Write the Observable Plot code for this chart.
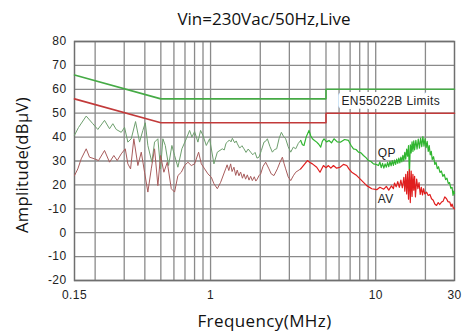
<!DOCTYPE html>
<html><head><meta charset="utf-8">
<script src="https://cdn.jsdelivr.net/npm/d3@7"></script>
<script src="https://cdn.jsdelivr.net/npm/@observablehq/plot@0.6"></script>
<style>
body{margin:0;background:#fff;}
#title{width:462px;height:30px;position:relative;}
#title span{position:absolute;left:74px;width:380px;top:9px;text-align:center;font-family:"Open Sans",sans-serif;font-size:17px;line-height:20px;color:#111;}
svg{letter-spacing:0.4px;}
</style></head>
<body>
<div id="title"><span>Vin=230Vac/50Hz,Live</span></div>
<div id="chart"></div>
<script>
// ---- data ----
const freqTicks = [0.15, 1, 10, 30];
const freqTickLabels = ["0.15", "1", "10", "30"];
const levelTicks = [-20, -10, 0, 10, 20, 30, 40, 50, 60, 70, 80];
const levelTickLabels = ["-20", "-10", "0", "-10", "20", "30", "40", "50", "60", "70", "80"];
const gridFreq = [0.2, 0.3, 0.4, 0.5, 0.6, 0.7, 0.8, 0.9, 1, 2, 3, 4, 5, 6, 7, 8, 9, 10, 20];

const limitFreq = [0.15, 0.5, 5, 5, 30];
const qpLimit = [66, 56, 56, 60, 60];
const avLimit = [56, 46, 46, 50, 50];

const qpFreq = [0.150,0.1586,0.1766,0.1936,0.2076,0.228,0.2445,0.256,0.2684,0.2878,0.3014,0.3156,0.3309,0.3514,0.3716,0.3891,0.4024,0.4172,0.4412,0.458,0.4796,0.498,0.5144,0.5318,0.5569,0.5832,0.6056,0.6341,0.6705,0.713,0.7466,0.7709,0.8006,0.8383,0.8703,0.8988,0.9425,0.9869,1.048,1.099,1.178,1.21,1.24,1.264,1.30,1.33,1.355,1.40,1.43,1.453,1.50,1.55,1.593,1.64,1.69,1.749,1.80,1.86,1.91,1.964,2.03,2.106,2.15,2.208,2.29,2.367,2.44,2.514,2.60,2.684,2.76,2.85,2.95,3.057,3.17,3.278,3.40,3.514,3.60,3.68,3.80,3.945,4.04,4.137,4.26,4.393,4.52,4.645,4.75,4.865,5.04,5.216,5.40,5.592,5.85,6.141,6.48,6.84,7.08,7.334,7.60,7.863,8.15,8.431,8.73,9.04,9.36,9.693,10.05,10.4,10.6,10.8,11.0,11.2,11.4,11.6,11.8,12.0,12.2,12.4,12.6,12.8,13.0,13.2,13.4,13.6,13.8,14.0,14.2,14.4,14.6,14.8,15.0,15.2,15.4,15.6,15.8,16.0,16.2,16.4,16.6,16.8,17.0,17.2,17.5,17.8,18.1,18.4,18.7,19.0,19.3,19.6,19.9,20.2,20.5,20.8,21.1,21.4,21.7,22.0,22.4,22.8,23.2,23.6,24.0,24.5,25.0,25.5,26.0,26.5,27.0,27.5,28.0,28.5,29.0,29.4,29.7,30];
const qpLevel = [40.8,44,48.8,45.6,43.2,47,43.5,45.6,43.2,42,44.1,37.9,39.3,46.5,37.9,42.8,46,36.5,29.5,37.9,39.3,26.7,39.3,36.5,28.1,36.5,32.3,27.4,35.1,39.3,42.8,40,42.3,37.9,42.8,40.7,36.5,39.3,28.8,33.7,35.1,34.6,37.4,37.9,38.8,38.0,39.5,37.6,38.4,37.2,35.4,36.4,35.1,33.6,35.0,33.7,32.6,33.6,31.2,31.6,34.4,37.9,38.2,39.3,36.0,33.7,34.8,35.1,39.4,42,40.4,39.3,36.0,33.7,35.8,35.1,37.4,38.6,36.8,36.5,40.2,42.8,40.6,39.3,38.6,37.9,37.0,35.8,38.2,39.3,38.0,38.6,37.6,39.3,38.0,37.9,39.0,38.6,36.6,35.1,34.8,33.7,33.4,32.3,31.4,30.2,29.8,28.8,28.6,28.1,29.6,27.2,29.0,27.0,28.8,27.4,29.4,27.6,29.8,28.0,30.2,28.2,30.4,28.6,30.8,29.0,31.2,29.2,31.6,29.6,32.4,30.0,33.6,30.8,35.0,32.0,36.4,24.0,36.8,33.4,38.0,34.0,38.4,34.6,38.6,35.0,39.2,35.4,39.6,36.0,40.2,36.2,39.4,35.6,38.2,34.0,36.4,32.6,34.0,30.6,31.8,28.6,29.4,26.8,27.6,25.2,25.8,23.6,24.4,22.2,22.8,20.6,21.0,18.6,19.0,15.6,17.4,16.4];

const avFreq = [0.150,0.1571,0.1647,0.1766,0.1849,0.1983,0.2097,0.228,0.2445,0.2596,0.2722,0.2878,0.3044,0.3156,0.3277,0.3431,0.3629,0.3806,0.3985,0.4172,0.4374,0.458,0.4796,0.498,0.5216,0.5469,0.5783,0.6056,0.6341,0.665,0.6962,0.7291,0.7645,0.8006,0.8464,0.879,0.9206,0.964,1.011,1.048,1.099,1.151,1.234,1.26,1.29,1.323,1.35,1.385,1.42,1.45,1.486,1.52,1.56,1.593,1.63,1.67,1.71,1.749,1.79,1.84,1.88,1.92,1.96,2.011,2.08,2.156,2.258,2.33,2.421,2.538,2.63,2.722,2.79,2.85,2.95,3.057,3.17,3.278,3.514,3.70,3.858,4.00,4.137,4.393,4.6,4.824,5.0,5.172,5.35,5.547,5.8,6.083,6.38,6.678,6.9,7.161,7.679,8.234,8.828,9.465,10.15,10.6,11.19,11.6,12.0,12.46,12.8,13.0,13.3,13.6,13.9,14.2,14.5,14.8,15.0,15.2,15.4,15.6,15.8,16.0,16.2,16.4,16.6,16.8,17.0,17.2,17.4,17.7,18.0,18.3,18.6,18.9,19.2,19.5,19.8,20.31,20.8,21.3,21.78,22.3,22.8,23.35,23.9,24.4,25.04,25.6,26.2,26.84,27.4,28.11,28.6,29.0,29.5,30];
const avLevel = [23.9,26.7,30.9,35.1,31.6,30.9,30.2,34.4,29.5,32.3,30.2,33,35.1,28.8,26.7,39.3,28.1,33.7,25.3,17,26.7,35.1,19.7,32.3,25.3,29.5,18.4,17,23.9,25.3,28.1,29.5,28.1,28.8,33.7,28.8,26.7,24.6,23.2,20.5,18.4,21.1,26.7,28.4,26.0,28.8,25.6,27.4,24.0,26.2,23.8,25.4,22.8,24.6,22.4,24.2,22.0,23.6,21.8,23.4,21.6,22.5,23.8,24.6,27.8,29.5,26.7,24.6,23.9,26.7,29.4,31.6,28.8,26.7,23.4,21.8,23.8,25.3,26.7,28.6,30.2,29.4,28.8,27.4,25.3,28.1,27.2,28.1,27.0,28.1,27.0,27.4,28.6,28.1,26.6,25.3,23.9,21.8,19.7,18.4,18.0,19.0,18.2,19.4,17.8,19.6,18.4,20.8,19.2,21.4,19.0,22.0,18.8,23.2,17.4,24.4,16.2,25.6,14.0,26.4,12.6,25.8,15.2,24.4,17.8,23.6,15.0,22.4,18.4,21.0,16.0,19.0,15.8,18.4,16.2,17.0,15.6,16.0,14.2,13.6,12.0,11.4,12.6,11.8,12.8,13.2,15.0,14.2,13.0,12.8,11.0,12.0,10.4,10];

const noteText = ["EN55022B Limits", "QP", "AV"];
const noteFreq = [6.2, 10.3, 10.3];
const noteLevel = [54.9, 33.3, 14.2];

// ---- build tables ----
const limits = limitFreq.map((f, i) => ({f, qp: qpLimit[i], av: avLimit[i]}));
const qp = qpFreq.map((f, i) => ({f, v: qpLevel[i]}));
const av = avFreq.map((f, i) => ({f, v: avLevel[i]}));
function splitAt(rows, fs) {
  const i = rows.findIndex(d => d.f >= fs);
  return [rows.slice(0, i + 1), rows.slice(i)];
}
const [qpLow, qpHigh] = splitAt(qp, 3.5);
const [avLow, avHigh] = splitAt(av, 3.5);
const notes = noteText.map((t, i) => ({t, f: noteFreq[i], v: noteLevel[i]}));

const chart = Plot.plot({
  width: 462,
  height: 304,
  marginLeft: 74,
  marginRight: 8,
  marginTop: 11,
  marginBottom: 54,
  style: {fontFamily: "'Liberation Sans', Arial, sans-serif", fontSize: "12px", color: "#222", background: "#fff"},
  x: {type: "log", domain: [0.15, 30]},
  y: {domain: [-20, 80]},
  marks: [
    Plot.ruleX(gridFreq, {stroke: "#8a8a8a", strokeWidth: 1.3}),
    Plot.ruleY(levelTicks, {stroke: "#8a8a8a", strokeWidth: 1.3}),
    Plot.frame({stroke: "#6f6f6f", strokeWidth: 1.5}),
    Plot.axisX({ticks: freqTicks, tickFormat: d => freqTickLabels[freqTicks.indexOf(d)], tickSize: 0, tickPadding: 10, label: null}),
    Plot.axisY({ticks: levelTicks, tickFormat: d => levelTickLabels[levelTicks.indexOf(d)], tickSize: 0, tickPadding: 8, label: null}),
    Plot.line(limits, {x: "f", y: "qp", stroke: "#45aa45", strokeWidth: 1.6}),
    Plot.line(limits, {x: "f", y: "av", stroke: "#c23a3a", strokeWidth: 1.6}),
    Plot.line(qpLow, {x: "f", y: "v", stroke: "#6e9f6e", strokeWidth: 1}),
    Plot.line(avLow, {x: "f", y: "v", stroke: "#a85c5c", strokeWidth: 1}),
    Plot.line(qpHigh, {x: "f", y: "v", stroke: "#2fb52f", strokeWidth: 1.2}),
    Plot.line(avHigh, {x: "f", y: "v", stroke: "#e01e1e", strokeWidth: 1.2}),
    Plot.text(notes, {x: "f", y: "v", text: "t", textAnchor: "start", fill: "#222", fontSize: 12, stroke: (d, i) => i === 0 ? "white" : "none", strokeWidth: 8, paintOrder: "stroke"}),
    Plot.text(["Frequency(MHz)"], {frameAnchor: "bottom", dy: 46, fontSize: 17, fontFamily: "'Open Sans', sans-serif", fill: "#111"}),
    Plot.text(["Amplitude(dBμV)"], {frameAnchor: "left", textAnchor: "middle", dx: -52, dy: 4, rotate: -90, fontSize: 16.5, fontFamily: "'Open Sans', sans-serif", fill: "#111"})
  ]
});
document.getElementById("chart").appendChild(chart);
</script>
</body></html>
